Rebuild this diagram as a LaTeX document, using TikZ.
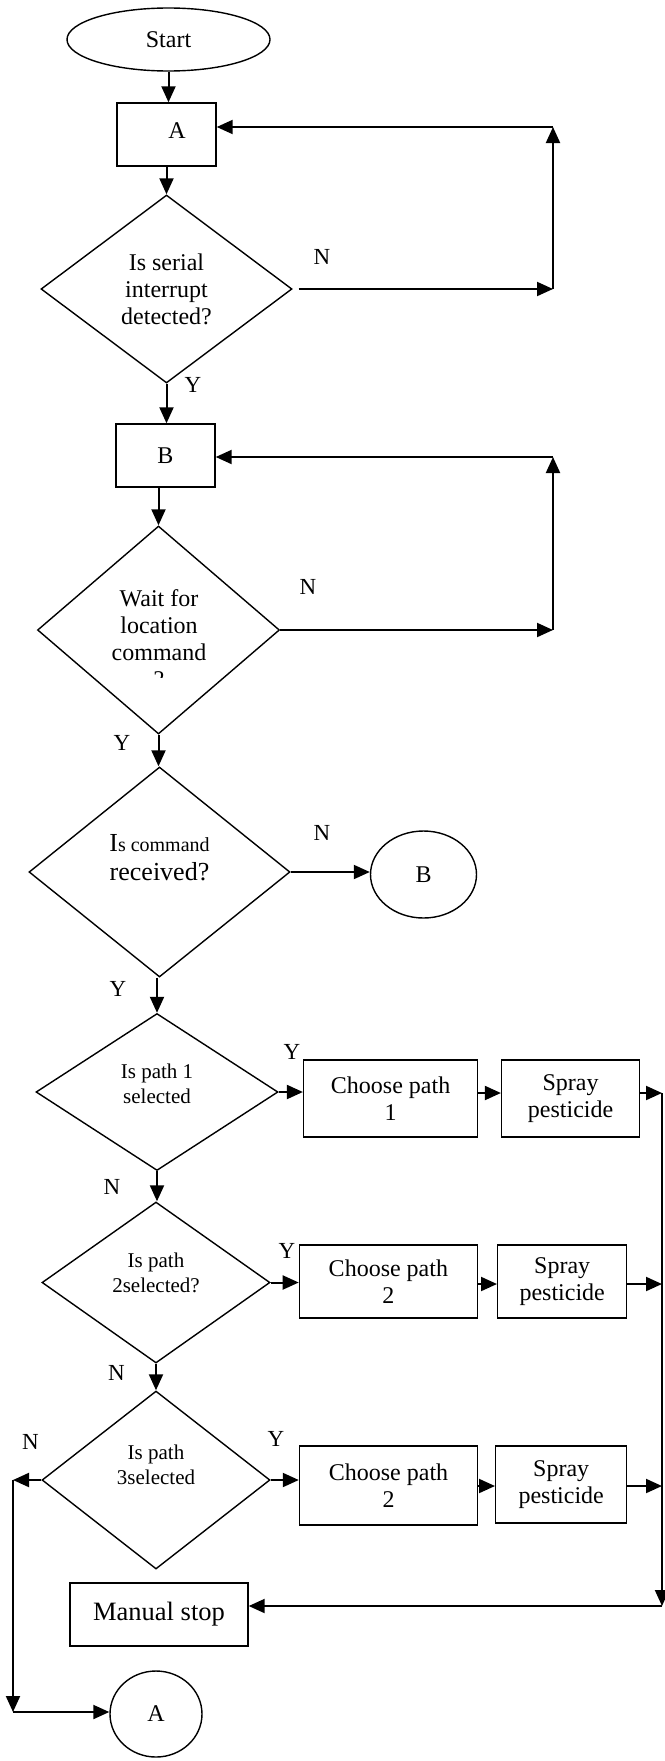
\documentclass[tikz,border=0pt]{standalone}
\usepackage{fontspec}
\setmainfont{Liberation Serif}
\usetikzlibrary{shapes.geometric,arrows.meta}
\begin{document}
\begin{tikzpicture}[x=1pt,y=-1pt,
  shp/.style={draw, line width=1.4pt, inner sep=0pt},
  boxn/.style={shp, rectangle},
  dia/.style={shp, diamond},
  ell/.style={shp, ellipse},
  txt/.style={inner sep=0pt, align=center, font=\fontsize{24}{27}\selectfont},
  stxt/.style={inner sep=0pt, align=center, font=\fontsize{21}{25}\selectfont},
  lbl/.style={inner sep=0pt, font=\fontsize{23}{26}\selectfont},
  conn/.style={line width=2pt},
  arr/.style={conn, -{Triangle[length=16pt,width=14pt]}},
]
\useasboundingbox (0,0) rectangle (664,1761);

% ---- shapes ----
\node[ell, minimum width=203pt, minimum height=63pt, txt] (start) at (168.5,39.5) {Start};
\node[boxn, minimum width=99pt, minimum height=63pt] (A) at (166.5,134.5) {};
\node[txt] (Atxt) at (177,131) {A};
\node[dia, minimum width=251pt, minimum height=188pt, txt] (D1) at (166.5,289) {Is serial\\interrupt\\detected?};
\node[boxn, minimum width=99pt, minimum height=63pt, txt] (B) at (165.5,455.5) {B};
\node[dia, minimum width=242pt, minimum height=208pt] (D2) at (158.5,630) {};
\node[txt] (D2txt) at (159,625) {Wait for\\location\\command};
\begin{scope}
  \clip (120,665) rectangle (200,677);
  \node[txt, anchor=base] (D2q) at (159,687) {?};
\end{scope}
\node[dia, minimum width=261pt, minimum height=210pt] (D3) at (159.5,872) {};
\node[inner sep=0pt, align=center, font=\fontsize{26}{29}\selectfont] (D3txt) at (159.5,858) {I{\fontsize{20}{29}\selectfont s command}\\received?};
\node[ell, minimum width=106pt, minimum height=87pt, txt] (Bc) at (423.5,874.5) {B};

\node[dia, minimum width=242pt, minimum height=157pt] (D4) at (157,1092) {};
\node[stxt] (D4txt) at (157,1083.5) {Is path 1\\selected};
\node[boxn, minimum width=174pt, minimum height=77pt, txt] (CP1) at (390.6,1098.5) {Choose path\\1};
\node[boxn, minimum width=138pt, minimum height=77pt, txt] (SP1) at (570.6,1098.5) {Spray\\pesticide};

\node[dia, minimum width=228pt, minimum height=161pt] (D5) at (156,1282.5) {};
\node[stxt] (D5txt) at (156,1272.5) {Is path\\2selected?};
\node[boxn, minimum width=178pt, minimum height=73pt, txt] (CP2) at (388.4,1281.5) {Choose path\\2};
\node[boxn, minimum width=129pt, minimum height=73pt, txt] (SP2) at (562.2,1281.5) {Spray\\pesticide};

\node[dia, minimum width=228pt, minimum height=178pt] (D6) at (156,1480) {};
\node[stxt] (D6txt) at (156,1464.5) {Is path\\3selected};
\node[boxn, minimum width=178pt, minimum height=79pt, txt] (CP3) at (388.5,1485.5) {Choose path\\2};
\node[boxn, minimum width=131pt, minimum height=77pt, txt] (SP3) at (561.2,1484.5) {Spray\\pesticide};

\node[boxn, minimum width=178pt, minimum height=63pt, font=\fontsize{26.5}{30}\selectfont] (MS) at (159,1614.5) {Manual stop};
\node[ell, minimum width=92pt, minimum height=86pt, txt] (Ac) at (156,1714) {A};

% ---- free corner points ----
\coordinate (r1) at (553,289);
\coordinate (r1t) at (553,127);
\coordinate (r2) at (553,630);
\coordinate (r2t) at (553,457);
\coordinate (v1) at (662,1093);
\coordinate (v2) at (662,1284);
\coordinate (v3) at (662,1486);
\coordinate (vb) at (662,1606);
\coordinate (l1) at (13,1480);
\coordinate (l2) at (13,1712);

% ---- connectors ----
\draw[arr] (start.south) -- (start.south |- A.north);
\draw[arr] (A.south) -- (D1.north);
\draw[arr, shorten <=6pt] (D1.east) -- (r1);
\draw[arr] (r1) -- (r1t);
\draw[arr] (r1t) -- (r1t -| A.east);
\draw[arr] (D1.south) -- (D1.south |- B.north);
\draw[arr] (D2.north |- B.south) -- (D2.north);
\draw[arr] (D2.east) -- (r2);
\draw[arr] (r2) -- (r2t);
\draw[arr] (r2t) -- (r2t -| B.east);
\draw[arr] (D2.south) -- (D2.south |- D3.north);
\draw[arr] (D3.east) -- (D3.east -| Bc.west);
\draw[arr] (D4.north |- D3.south) -- (D4.north);
\draw[arr] (D4.east) -- (D4.east -| CP1.west);
\draw[arr] (CP1.east |- v1) -- (SP1.west |- v1);
\draw[arr] (SP1.east |- v1) -- (v1);
\draw[arr] (D4.south) -- (D4.south |- D5.north);
\draw[arr] (D5.east) -- (D5.east -| CP2.west);
\draw[arr] (CP2.east |- v2) -- (SP2.west |- v2);
\draw[arr] (SP2.east |- v2) -- (v2);
\draw[arr] (D5.south) -- (D6.north);
\draw[arr] (D6.east) -- (D6.east -| CP3.west);
\draw[arr] (CP3.east |- v3) -- (SP3.west |- v3);
\draw[arr] (SP3.east |- v3) -- (v3);
\draw[arr] (v1) -- (vb);
\draw[arr] (vb) -- (vb -| MS.east);
\draw[arr] (D6.west) -- (l1);
\draw[arr] (l1) -- (l2);
\draw[arr] (l2) -- (l2 -| Ac.west);

% ---- labels ----
\node[lbl] (N1) at (322,257) {N};
\node[lbl] (Y1) at (193,385) {Y};
\node[lbl] (N2) at (308,587) {N};
\node[lbl] (Y2) at (122,743) {Y};
\node[lbl] (N3) at (322,833) {N};
\node[lbl] (Y3) at (118,989) {Y};
\node[lbl] (Y4) at (292,1052) {Y};
\node[lbl] (N4) at (112,1187) {N};
\node[lbl] (Y5) at (287,1251) {Y};
\node[lbl] (N5) at (116.5,1373) {N};
\node[lbl] (N6) at (30.5,1442) {N};
\node[lbl] (Y6) at (276,1439) {Y};
\end{tikzpicture}
\end{document}
